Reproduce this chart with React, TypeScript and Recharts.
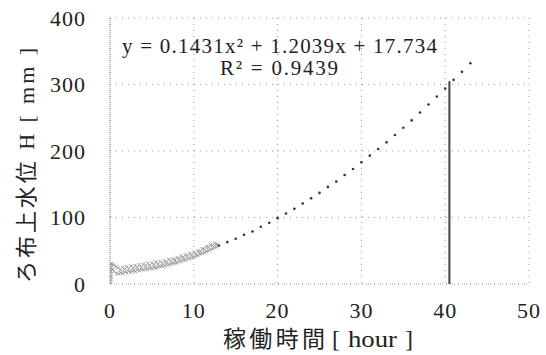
import { ScatterChart, Scatter, XAxis, YAxis, CartesianGrid } from "recharts";

// measured water level during the first ~13 hours (hour, mm)
const measuredHours = [
  0.1, 0.1, 0.1, 0.1, 0.1, 0.1, 0.1, 0.1,
  0.3, 0.3, 0.5, 0.5, 0.75, 0.75,
  1.0, 1.0, 1.25, 1.25, 1.5, 1.5, 1.75, 1.75, 2.0, 2.0, 2.25, 2.25, 2.5, 2.5, 2.75, 2.75,
  3.0, 3.0, 3.25, 3.25, 3.5, 3.5, 3.75, 3.75, 4.0, 4.0, 4.25, 4.25, 4.5, 4.5, 4.75, 4.75,
  5.0, 5.0, 5.25, 5.25, 5.5, 5.5, 5.75, 5.75, 6.0, 6.0, 6.25, 6.25, 6.5, 6.5, 6.75, 6.75,
  7.0, 7.0, 7.25, 7.25, 7.5, 7.5, 7.75, 7.75, 8.0, 8.0, 8.25, 8.25, 8.5, 8.5, 8.75, 8.75,
  9.0, 9.0, 9.25, 9.25, 9.5, 9.5, 9.75, 9.75, 10.0, 10.0, 10.25, 10.25, 10.5, 10.5, 10.75, 10.75,
  11.0, 11.0, 11.25, 11.25, 11.5, 11.5, 11.75, 11.75, 12.0, 12.0, 12.25, 12.25, 12.5, 12.5, 12.75, 12.75,
];
const measuredLevel = [
  2, 6, 10, 14, 18, 22, 26, 30,
  30, 22, 28, 19, 26, 16,
  24, 15, 21, 17, 25, 16, 22, 18, 26, 17, 23, 19, 27, 18, 24, 20,
  28, 19, 25, 21, 29, 20, 26, 22, 30, 21, 27, 23, 31, 22, 28, 24,
  32, 23, 29, 25, 33, 24, 30, 26, 34, 26, 31, 27, 35, 27, 33, 29,
  37, 29, 34, 30, 38, 31, 36, 32, 40, 32, 38, 34, 42, 34, 40, 36,
  44, 36, 42, 38, 46, 38, 44, 40, 48, 40, 46, 42, 50, 43, 49, 45,
  53, 46, 52, 47, 56, 49, 55, 50, 59, 52, 58, 53, 61, 55, 60, 56,
];

// fitted curve continuation (dotted trend)
const trendHours = [
  13, 14, 15, 16, 17, 18, 19, 20, 21, 22, 23, 24, 25, 26, 27, 28,
  29, 30, 31, 32, 33, 34, 35, 36, 37, 38, 39, 40, 41, 42, 43,
];
const trendLevel = [
  58, 63, 68, 74, 79, 86, 92, 99, 106, 113, 121, 129, 137, 146, 154, 164,
  173, 183, 193, 203, 213, 224, 235, 246, 258, 270, 282, 294, 307, 319, 332,
];

// end of run marker
const endHours = [40.5, 40.5];
const endLevel = [0, 305];

const xTicks = [0, 10, 20, 30, 40, 50];
const yTicks = [0, 100, 200, 300, 400];

const equationText = "y = 0.1431x² + 1.2039x + 17.734";
const r2Text = "R² = 0.9439";
const xLabelJa = "稼働時間";
const xLabelUnit = "hour";
const yLabel = "ろ布上水位 H [ mm ]";

const measured = measuredHours.map((x, i) => ({ x, y: measuredLevel[i] }));
const trend = trendHours.map((x, i) => ({ x, y: trendLevel[i] }));
const endLine = endHours.map((x, i) => ({ x, y: endLevel[i] }));

const SERIF = "'Liberation Serif', serif";
const JP = "'Liberation Serif', 'Noto Sans CJK JP', serif";

function CrossMark(props: any) {
  const { cx, cy } = props;
  if (cx == null || cy == null) return null;
  const s = 1.7;
  return (
    <g stroke="#8a8a8a" strokeWidth={0.8}>
      <line x1={cx - s} y1={cy - s} x2={cx + s} y2={cy + s} />
      <line x1={cx - s} y1={cy + s} x2={cx + s} y2={cy - s} />
    </g>
  );
}

function DotMark(props: any) {
  const { cx, cy } = props;
  if (cx == null || cy == null) return null;
  return <circle cx={cx} cy={cy} r={1.3} fill="#333" />;
}

export default function App() {
  return (
    <div style={{ position: "absolute", left: 0, top: 0, width: 546, height: 355, background: "#fff" }}>
      <ScatterChart
        width={546}
        height={355}
        margin={{ top: 18, right: 17, bottom: 31, left: 50 }}
      >
        <CartesianGrid stroke="#999" strokeDasharray="1 5" strokeWidth={1} />
        <XAxis
          type="number"
          dataKey="x"
          domain={[0, 50]}
          ticks={xTicks}
          axisLine={{ stroke: "#999", strokeDasharray: "1 3" }}
          tickLine={false}
          height={40}
          tickMargin={12}
          tick={{ fontSize: 22, fill: "#222", fontFamily: SERIF, letterSpacing: 1 }}
          allowDataOverflow
        />
        <YAxis
          type="number"
          dataKey="y"
          domain={[0, 400]}
          ticks={yTicks}
          axisLine={{ stroke: "#888", strokeDasharray: "1 1" }}
          tickLine={false}
          width={60}
          tickMargin={18}
          tick={{ fontSize: 22, fill: "#222", fontFamily: SERIF, letterSpacing: 1 }}
          allowDataOverflow
        />
        <Scatter data={measured} shape={<CrossMark />} isAnimationActive={false} />
        <Scatter data={trend} shape={<DotMark />} isAnimationActive={false} />
        <Scatter
          data={endLine}
          line={{ stroke: "#444", strokeWidth: 2 }}
          shape={() => null}
          isAnimationActive={false}
        />
      </ScatterChart>
      <div style={{ position: "absolute", left: 0, top: 0, pointerEvents: "none" }}>
        <svg width={546} height={355}>
          <text x={122} y={53} textLength={315} lengthAdjust="spacing" fontSize={21} fontFamily={SERIF} fill="#222">
            {equationText}
          </text>
          <text x={220} y={75} textLength={118} lengthAdjust="spacing" fontSize={21} fontFamily={SERIF} fill="#222">
            {r2Text}
          </text>
          <text y={347} fill="#222">
            <tspan x={223} fontSize={23} fontFamily={JP} textLength={102} lengthAdjust="spacing">
              {xLabelJa}
            </tspan>
            <tspan x={332} fontSize={24} fontFamily={SERIF}>[</tspan>
            <tspan x={348} fontSize={24} fontFamily={SERIF} textLength={49} lengthAdjust="spacingAndGlyphs">
              {xLabelUnit}
            </tspan>
            <tspan x={405} fontSize={24} fontFamily={SERIF}>]</tspan>
          </text>
          <text
            x={0}
            y={0}
            transform="translate(34,283) rotate(-90)"
            textLength={235}
            lengthAdjust="spacing"
            fontSize={22}
            fontFamily={JP}
            fill="#222"
          >
            {yLabel}
          </text>
        </svg>
      </div>
    </div>
  );
}
